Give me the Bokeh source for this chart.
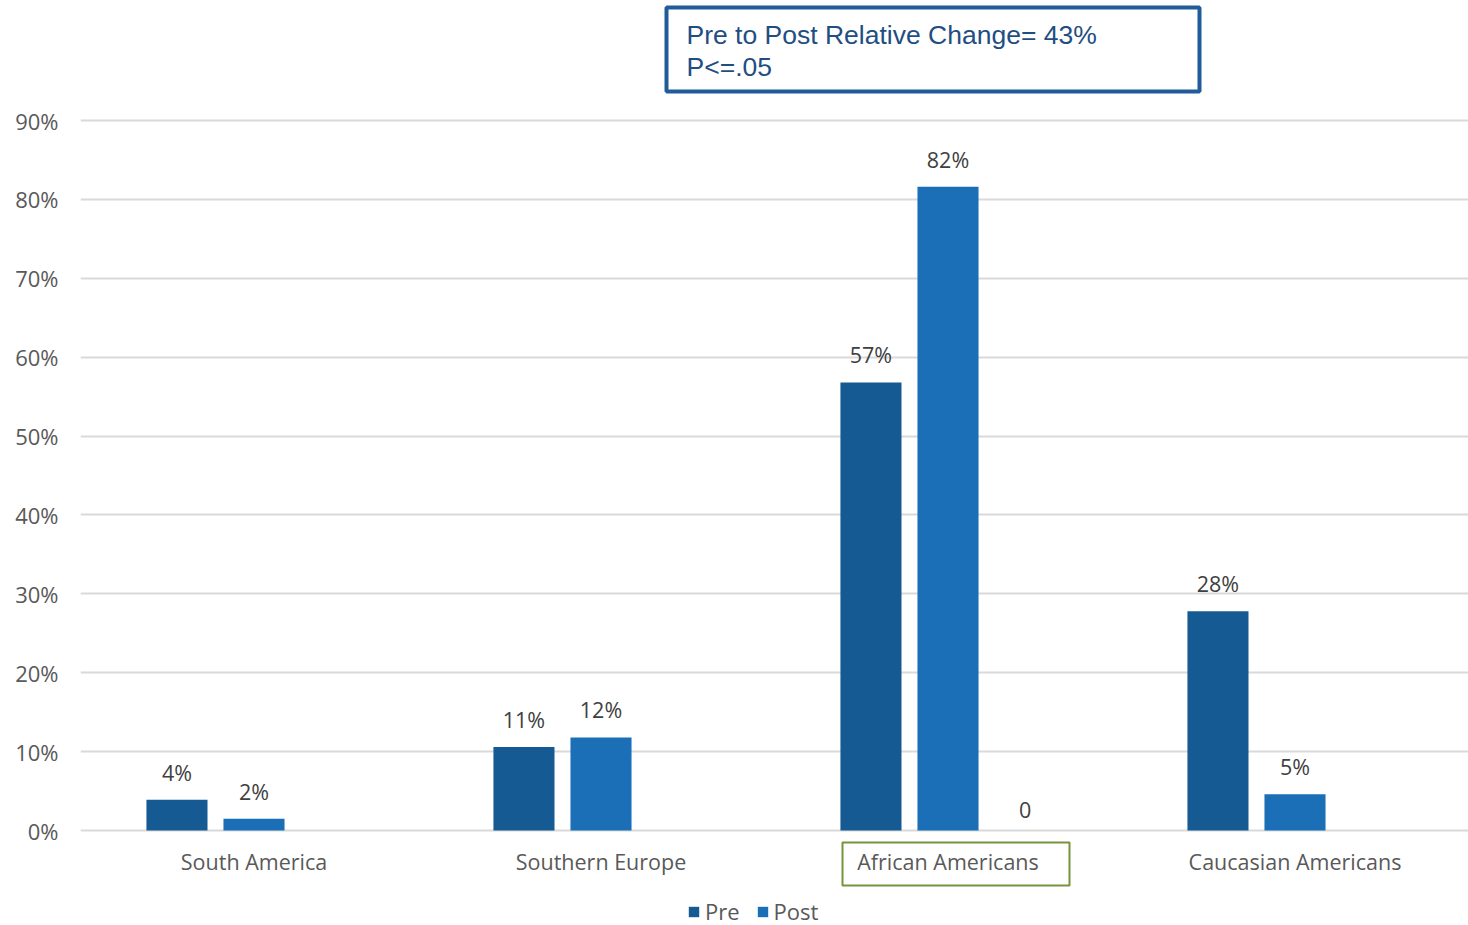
from bokeh.plotting import figure
from bokeh.models import (ColumnDataSource, LabelSet, Label, BoxAnnotation, Range1d,
                          FixedTicker, Legend, LegendItem)
from bokeh.core.properties import value
from bokeh.transform import dodge
from bokeh.embed import file_html
from bokeh.resources import INLINE

# ---- data ----
categories = ["South America", "Southern Europe", "African Americans", "Caucasian Americans"]
pre_values = [3.9, 10.6, 56.8, 27.8]
post_values = [1.5, 11.8, 81.6, 4.6]
other_values = [None, None, 0, None]
y_ticks = [0, 10, 20, 30, 40, 50, 60, 70, 80, 90]
series_names = ["Pre", "Post"]
box_text_1 = "Pre to Post Relative Change= 43%"
box_text_2 = "P<=.05"

PRE_COLOR = "#165A93"
POST_COLOR = "#1B6FB6"
TEXT_COLOR = "#595959"
LABEL_COLOR = "#404040"
GRID_COLOR = "#D9D9D9"
FONT = "Open Sans"

W, H = 1468, 925
L, R = 80, 0
FW = W - L - R
ZERO_PX = 830          # pixel row of the 0% line
PPU = 710 / 90.0       # pixels per percentage point
Y_START = -(H - ZERO_PX) / PPU
Y_END = ZERO_PX / PPU


def px_x(px):
    return -0.5 + (px - L) / FW * len(categories)


def px_y(py):
    return (ZERO_PX - py) / PPU


def fmt(v):
    return f"{int(v + 0.5)}%"


idx = list(range(len(categories)))
src = ColumnDataSource(dict(
    x=idx,
    pre=pre_values,
    post=post_values,
    pre_lbl=[fmt(v) for v in pre_values],
    post_lbl=[fmt(v) for v in post_values],
    cat=categories,
    cat_y=[px_y(861)] * len(categories),
))
oth_idx = [i for i, v in enumerate(other_values) if v is not None]
src_o = ColumnDataSource(dict(
    x=oth_idx,
    y=[other_values[i] for i in oth_idx],
    lbl=[str(other_values[i]) for i in oth_idx],
))

p = figure(width=W, height=H, output_backend="svg", toolbar_location=None,
           x_range=Range1d(-0.5, len(categories) - 0.5), y_range=Range1d(Y_START, Y_END),
           min_border_left=L, min_border_right=R, min_border_top=0, min_border_bottom=0)
p.outline_line_color = None
p.background_fill_color = "white"
p.border_fill_color = "white"

OFF = 0.222
BW = 0.176
r_pre = p.vbar(x=dodge("x", -OFF), top="pre", width=BW, source=src,
               fill_color=PRE_COLOR, line_color=None)
r_post = p.vbar(x=dodge("x", 0.0), top="post", width=BW, source=src,
                fill_color=POST_COLOR, line_color=None)

lbl_kw = dict(text_font=value(FONT), text_font_size="21.5px", text_color=LABEL_COLOR,
              text_align="center", text_baseline="bottom", y_offset=13)
p.add_layout(LabelSet(x=dodge("x", -OFF), y="pre", text="pre_lbl", source=src, **lbl_kw))
p.add_layout(LabelSet(x=dodge("x", 0.0), y="post", text="post_lbl", source=src, **lbl_kw))
p.add_layout(LabelSet(x=dodge("x", OFF), y="y", text="lbl", source=src_o, **lbl_kw))

# category labels (x axis text)
p.text(x="x", y="cat_y", text="cat", source=src, text_font=value(FONT),
       text_font_size="21.5px", text_color=TEXT_COLOR, text_align="center",
       text_baseline="middle")
p.xaxis.visible = False

p.yaxis.ticker = FixedTicker(ticks=y_ticks)
p.yaxis.major_label_overrides = {t: f"{t}%" for t in y_ticks}
p.yaxis.major_label_text_font = FONT
p.yaxis.major_label_text_font_size = "22px"
p.yaxis.major_label_text_color = TEXT_COLOR
p.yaxis.major_label_standoff = 16
p.yaxis.major_tick_line_color = None
p.yaxis.minor_tick_line_color = None
p.yaxis.axis_line_color = None

p.xgrid.grid_line_color = None
p.ygrid.grid_line_color = GRID_COLOR
p.ygrid.grid_line_width = 2

# legend
legend = Legend(items=[LegendItem(label=series_names[0], renderers=[r_pre]),
                       LegendItem(label=series_names[1], renderers=[r_post])],
                orientation="horizontal", location=(607, -1),
                label_text_font=FONT, label_text_font_size="22px",
                label_text_color=TEXT_COLOR, glyph_width=13, glyph_height=13,
                label_standoff=5, spacing=16, border_line_color=None,
                background_fill_alpha=0, margin=0, padding=0)
p.add_layout(legend)

# annotation text box
p.add_layout(BoxAnnotation(left=px_x(666), right=px_x(1199), top=px_y(7), bottom=px_y(91),
                           fill_color=None, line_color="#1F5C99", line_alpha=1.0,
                           line_width=4))
box_kw = dict(text_font="Liberation Sans", text_font_size="26.5px", text_color="#1F4E82",
              text_align="left", text_baseline="middle")
p.add_layout(Label(x=px_x(686), y=px_y(34), text=box_text_1, **box_kw))
p.add_layout(Label(x=px_x(686), y=px_y(66), text=box_text_2, **box_kw))

# highlight box around a category label
p.add_layout(BoxAnnotation(left=px_x(842), right=px_x(1069), top=px_y(842), bottom=px_y(885),
                           fill_color=None, line_color="#77933C", line_alpha=1.0,
                           line_width=2))

open("out.html", "w").write(file_html(p, INLINE))
